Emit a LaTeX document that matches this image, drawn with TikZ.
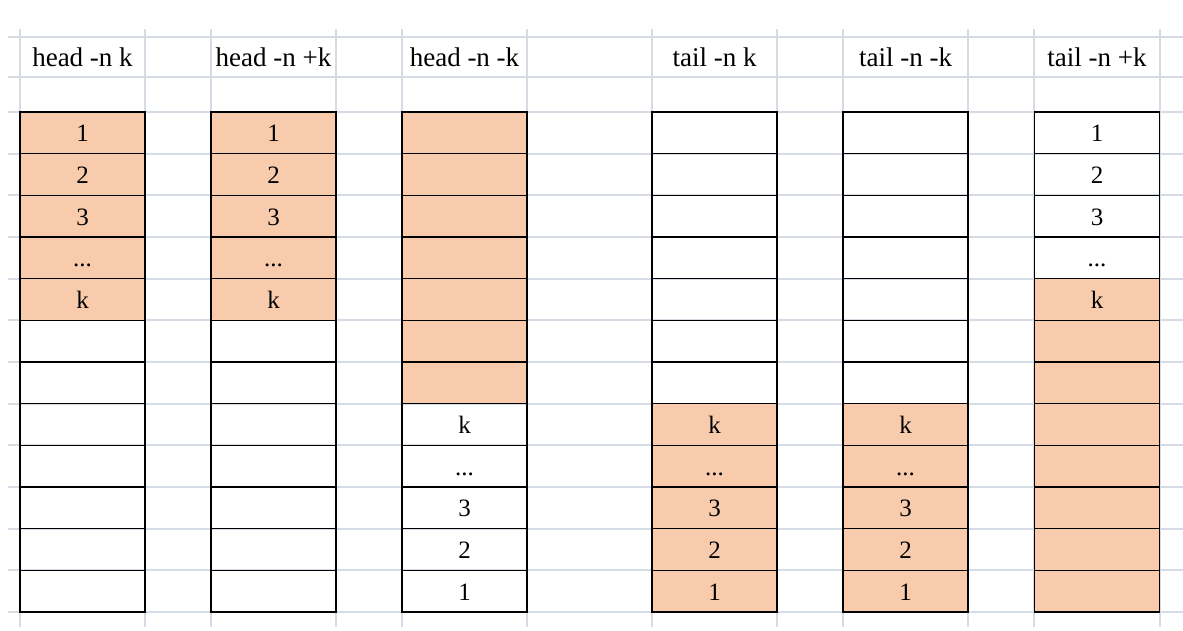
\documentclass[tikz,border=0pt]{standalone}
\usepackage{fontspec}
\setmainfont{Liberation Serif}

\definecolor{peach}{HTML}{F8CBAD}
\definecolor{gridgray}{HTML}{D6DCE5}
\newcommand{\dd}{...}
\tikzset{
  cell/.style={draw=black,line width=1.6pt,minimum width=125pt,
    minimum height=41.67pt,inner sep=0pt,text height=18pt,text depth=0pt,
    font=\fontsize{25}{29}\selectfont},
  full/.style={cell,fill=peach},
  headtext/.style={anchor=base,font=\fontsize{27}{31}\selectfont}
}

\begin{document}
\begin{tikzpicture}[x=1pt,y=-1pt]
    \useasboundingbox (0,0) rectangle (1183,630);
    % sheet grid
    \foreach \gy in {37,77,112,153.67,195.33,237,278.67,320.33,362,403.67,445.33,487,528.67,570.33,612}
      \draw[gridgray,line width=2pt] (8,\gy) -- (1183,\gy);
    \foreach \gx in {20,145,211,336,402,527,652,777,843,968,1034,1160}
      \draw[gridgray,line width=2pt] (\gx,29) -- (\gx,627);
    % titles
    \foreach \cx/\name/\t in {82.5/hk/head -n k,273.5/hpk/head -n +k,464.5/hmk/head -n -k,
        714.5/tk/tail -n k,905.5/tmk/tail -n -k,1097/tpk/tail -n +k}
      \node[headtext] (title-\name) at (\cx,66) {\t};
    % head -n k
    \foreach \t [count=\r] in {1,2,3,\dd,k}
      \node[full] (hk-\r) at (82.5,{112+41.667*(\r-0.5)}) {\t};
    \foreach \r in {6,...,12}
      \node[cell] (hk-\r) at (82.5,{112+41.667*(\r-0.5)}) {};
    % head -n +k
    \foreach \t [count=\r] in {1,2,3,\dd,k}
      \node[full] (hpk-\r) at (273.5,{112+41.667*(\r-0.5)}) {\t};
    \foreach \r in {6,...,12}
      \node[cell] (hpk-\r) at (273.5,{112+41.667*(\r-0.5)}) {};
    % head -n -k
    \foreach \r in {1,...,7}
      \node[full] (hmk-\r) at (464.5,{112+41.667*(\r-0.5)}) {};
    \foreach \t [count=\i] in {k,\dd,3,2,1}
      \node[cell] (hmk-\i) at (464.5,{112+41.667*(\i+6.5)}) {\t};
    % tail -n k
    \foreach \r in {1,...,7}
      \node[cell] (tk-\r) at (714.5,{112+41.667*(\r-0.5)}) {};
    \foreach \t [count=\i] in {k,\dd,3,2,1}
      \node[full] (tk-\i) at (714.5,{112+41.667*(\i+6.5)}) {\t};
    % tail -n -k
    \foreach \r in {1,...,7}
      \node[cell] (tmk-\r) at (905.5,{112+41.667*(\r-0.5)}) {};
    \foreach \t [count=\i] in {k,\dd,3,2,1}
      \node[full] (tmk-\i) at (905.5,{112+41.667*(\i+6.5)}) {\t};
    % tail -n +k
    \foreach \t [count=\r] in {1,2,3,\dd}
      \node[cell] (tpk-\r) at (1097,{112+41.667*(\r-0.5)}) {\t};
    \node[full] (tpk-5) at (1097,{112+41.667*4.5}) {k};
    \foreach \r in {6,...,12}
      \node[full] (tpk-\r) at (1097,{112+41.667*(\r-0.5)}) {};
  \end{tikzpicture}
\end{document}
